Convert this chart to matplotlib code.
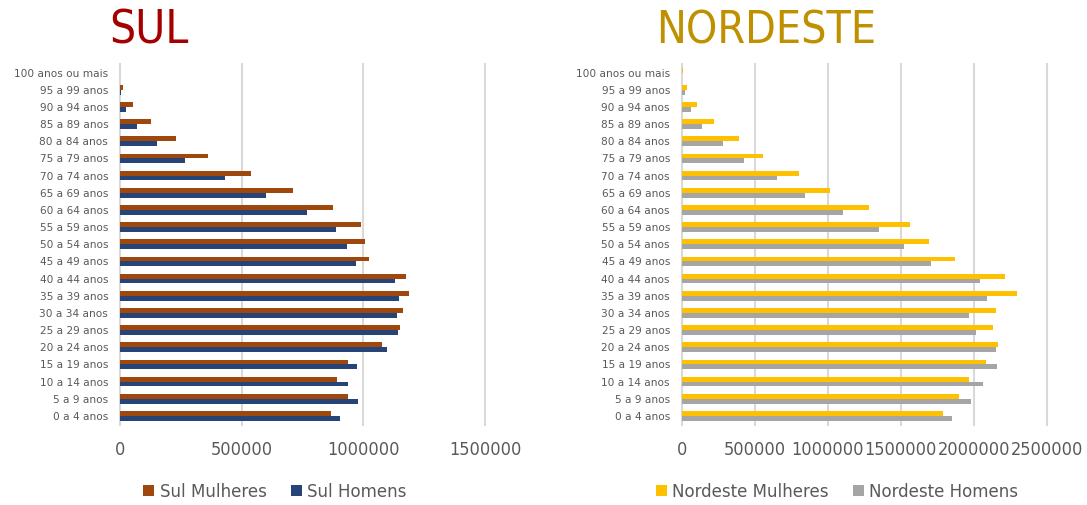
import matplotlib.pyplot as plt
from matplotlib import font_manager as fm
import numpy as np

idades = ["0 a 4 anos", "5 a 9 anos", "10 a 14 anos", "15 a 19 anos", "20 a 24 anos",
          "25 a 29 anos", "30 a 34 anos", "35 a 39 anos", "40 a 44 anos", "45 a 49 anos",
          "50 a 54 anos", "55 a 59 anos", "60 a 64 anos", "65 a 69 anos", "70 a 74 anos",
          "75 a 79 anos", "80 a 84 anos", "85 a 89 anos", "90 a 94 anos", "95 a 99 anos",
          "100 anos ou mais"]

sul_mulheres = [869000, 936000, 892000, 936000, 1075000, 1150000, 1164000, 1187000, 1174000, 1025000,
                1008000, 990000, 874000, 711000, 537000, 362000, 229000, 126000, 55000, 12000, 2000]
sul_homens = [906000, 978000, 936000, 974000, 1097000, 1143000, 1138000, 1147000, 1129000, 969000,
              932000, 888000, 767000, 602000, 433000, 269000, 154000, 69000, 24000, 4000, 800]

ne_mulheres = [1791000, 1899000, 1968000, 2085000, 2167000, 2135000, 2151000, 2294000, 2211000, 1872000,
               1695000, 1562000, 1280000, 1014000, 805000, 557000, 394000, 218000, 105000, 39000, 12000]
ne_homens = [1849000, 1984000, 2064000, 2158000, 2151000, 2014000, 1968000, 2092000, 2041000, 1709000,
             1525000, 1353000, 1103000, 844000, 654000, 429000, 284000, 142000, 62000, 20000, 4000]

narrow = fm.FontProperties(family='DejaVu Sans', stretch='condensed')

fig = plt.figure(figsize=(10.87, 5.05), dpi=100)

W, H = 1087, 505


def painel(x0, x1, xmax, mulheres, homens, cor_m, cor_h, nomes, leg_x):
    # area do grafico em pixels: topo 64, base 424
    ax = fig.add_axes([x0 / W, (H - 424.5) / H, (x1 - x0) / W, 360.5 / H])
    y = np.arange(len(idades))
    h = 0.28
    bm = ax.barh(y + h / 2, mulheres, height=h, color=cor_m, label=nomes[0])
    bh = ax.barh(y - h / 2, homens, height=h, color=cor_h, label=nomes[1])
    ax.set_xlim(0, xmax)
    ax.set_ylim(-0.5, len(idades) - 0.5)
    ticks = np.arange(0, xmax + 1, 500000)
    ax.set_xticks(ticks)
    ax.set_xticklabels([str(int(t)) for t in ticks], fontproperties=narrow, fontsize=13, color='#595959')
    ax.set_yticks(y)
    ax.set_yticklabels(idades, fontsize=7.6, color='#595959')
    ax.tick_params(axis='both', length=0)
    ax.tick_params(axis='y', pad=8.5)
    ax.tick_params(axis='x', pad=12)
    for s in ax.spines.values():
        s.set_visible(False)
    ax.set_axisbelow(True)
    for xv in ticks:
        ax.axvline(xv, color='#D9D9D9', lw=1.5, zorder=0, clip_on=False)
    prop = narrow.copy()
    prop.set_size(13.3)
    fig.legend(handles=[bm, bh], loc='center', bbox_to_anchor=(leg_x / W, 1 - 492 / H),
               ncol=2, frameon=False, handlelength=0.6, handleheight=0.6,
               handletextpad=0.3, columnspacing=1.3, prop=prop, labelcolor='#595959')
    return ax


painel(120, 485, 1500000, sul_mulheres, sul_homens, '#9E480E', '#264478',
       ["Sul Mulheres", "Sul Homens"], 275)
painel(681.7, 1046.7, 2500000, ne_mulheres, ne_homens, '#FFC000', '#A5A5A5',
       ["Nordeste Mulheres", "Nordeste Homens"], 837)

fig.text(109 / W, 1 - 44 / H, "SUL", fontproperties=narrow, fontsize=33, color='#A50000', va='baseline')
fig.text(656 / W, 1 - 44 / H, "NORDESTE", fontproperties=narrow, fontsize=32, color='#BF9000', va='baseline')

fig.savefig("out.png", dpi=100)
